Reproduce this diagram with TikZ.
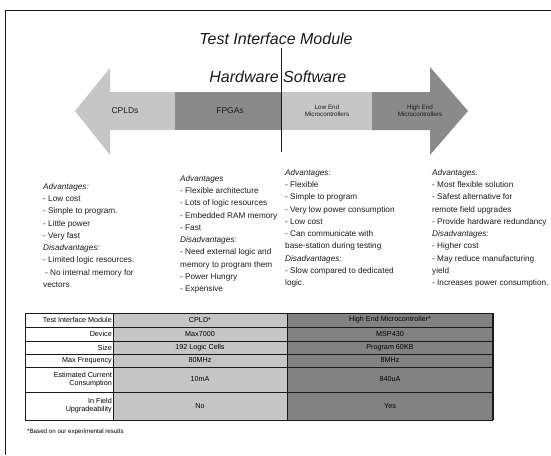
\documentclass[tikz,border=0pt]{standalone}
\usepackage{fontspec}
\setmainfont{Liberation Sans}
\usetikzlibrary{positioning}
\definecolor{ink}{HTML}{1A1A1A}
\definecolor{lightband}{HTML}{C6C6C6}
\definecolor{darkband}{HTML}{8A8A8A}
\definecolor{cpldcell}{HTML}{C6C6C6}
\definecolor{mcucell}{HTML}{828282}
\tikzset{
  headline/.style={font=\fontsize{16}{18}\selectfont\itshape, text=ink, inner sep=0pt},
  bandlabel/.style={font=\fontsize{6.3}{7.3}\selectfont, align=center, text=ink, inner sep=0pt},
  procon/.style={font=\fontsize{8.2}{12.3}\selectfont, align=left, anchor=north west,
    inner sep=0pt, text=ink},
  rowhead/.style={font=\fontsize{7.2}{8.2}\selectfont, align=right, anchor=east, inner sep=1pt},
  cellval/.style={font=\fontsize{7.2}{8.2}\selectfont, align=center, inner sep=0pt},
  tabrule/.style={draw=ink, line width=0.8pt}
}
\begin{document}
\begin{tikzpicture}[x=1pt,y=-1pt]
\useasboundingbox (0,0) rectangle (551,455);
% page frame
\draw[ink,line width=0.8pt] (5,455) -- (5,10) -- (551,10);

% spectrum arrow
\fill[lightband] (75,111) -- (110,68) -- (110,92) -- (175,92) -- (175,130)
  -- (110,130) -- (110,155) -- cycle;
\fill[darkband] (175,92) rectangle (281,130);
\fill[lightband] (281,92) rectangle (372,130);
\fill[darkband] (372,92) -- (430,92) -- (430,67) -- (468,111) -- (430,155)
  -- (430,130) -- (372,130) -- cycle;
\node[bandlabel,font=\fontsize{8.5}{9.5}\selectfont] (cpld) at (125,111) {CPLDs};
\node[bandlabel,font=\fontsize{8.5}{9.5}\selectfont] (fpga) at (230,111) {FPGAs};
\node[bandlabel] (lowmc) at (327,111) {Low End\\Microcontrollers};
\node[bandlabel] (highmc) at (420,111) {High End\\Microcontrollers};

% titles and hardware/software split
\node[headline] (tim) at (276,39) {Test Interface Module};
\node[headline,anchor=east] (hw) at (279,77) {Hardware};
\node[headline,anchor=west] (sw) at (283,77) {Software};
\coordinate (split) at (281,152);
\draw[ink,line width=0.6pt] (tim.south -| split) ++(0,3) -- (split);

% pros and cons
\node[procon] (col1) at (43,183) {\textit{Advantages:}\\- Low cost\\- Simple to program.\\- Little power\\- Very fast\\\textit{Disadvantages:}\\- Limited logic resources.\\\hspace{2pt}- No internal memory for\\vectors};
\node[procon] (col2) at (180,175) {\textit{Advantages}\\- Flexible architecture\\- Lots of logic resources\\- Embedded RAM memory\\- Fast\\\textit{Disadvantages:}\\- Need external logic and\\memory to program them\\- Power Hungry\\- Expensive};
\node[procon] (col3) at (285,169) {\textit{Advantages:}\\- Flexible\\- Simple to program\\- Very low power consumption\\- Low cost\\- Can communicate with\\base-station during testing\\\textit{Disadvantages:}\\- Slow compared to dedicated\\logic.};
\node[procon] (col4) at (432,169) {\textit{Advantages.}\\- Most flexible solution\\- Safest alternative for\\remote field upgrades\\- Provide hardware redundancy\\\textit{Disadvantages:}\\- Higher cost\\- May reduce manufacturing\\yield\\- Increases power consumption.};

% comparison table
\fill[cpldcell] (113,313) rectangle (287,420);
\fill[mcucell] (287,313) rectangle (493,420);
\foreach \r/\ya/\yb/\lab/\cv/\mv in {
  0/313/327/{Test Interface Module}/{CPLD*}/{High End Microcontroller*},
  1/327/341/{Device}/{Max7000}/{MSP430},
  2/341/354/{Size}/{192 Logic Cells}/{Program 60KB},
  3/354/367/{Max Frequency}/{80MHz}/{8MHz},
  4/367/392/{Estimated Current\\Consumption}/{10mA}/{840uA},
  5/392/420/{In Field\\Upgradeability}/{No}/{Yes}} {
  \draw[tabrule] (25,\yb) -- (493,\yb);
  \node[rowhead] (lab\r) at (113,{(\ya+\yb)/2}) {\lab};
  \node[cellval] (cpld\r) at (200,{(\ya+\yb)/2}) {\cv};
  \node[cellval] (mcu\r) at (390,{(\ya+\yb)/2}) {\mv};
}
\draw[tabrule] (25,313) -- (493,313);
\foreach \cx in {25,113,287} {
  \draw[tabrule] (\cx,313) -- (\cx,420);
}
\draw[ink,line width=1.4pt] (493,313) -- (493,420);
\node[anchor=west,inner sep=0pt,font=\fontsize{6.2}{7}\selectfont] (note) at (27,432)
  {*Based on our experimental results};
\end{tikzpicture}
\end{document}
